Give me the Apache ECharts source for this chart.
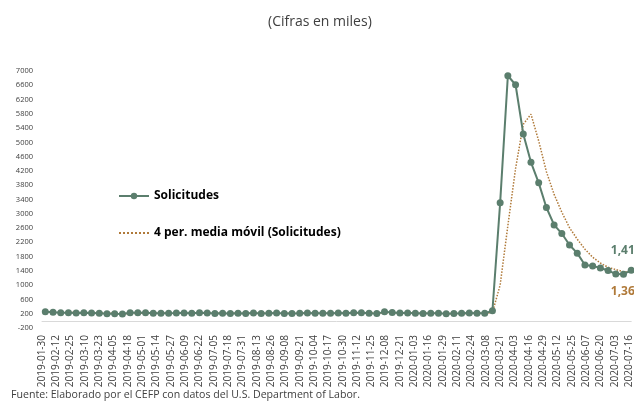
<!DOCTYPE html>
<html>
<head>
<meta charset="utf-8">
<script src="https://cdn.jsdelivr.net/npm/echarts@6/dist/echarts.min.js"></script>
<style>html,body{margin:0;padding:0;background:#fff;}#chart{width:634px;height:404px;}</style>
</head>
<body>
<div id="chart"></div>
<script>
// Week-ending dates (Saturday) of the weekly initial claims
var weekDates = [
'2019-02-02','2019-02-09','2019-02-16','2019-02-23','2019-03-02','2019-03-09','2019-03-16','2019-03-23','2019-03-30','2019-04-06',
'2019-04-13','2019-04-20','2019-04-27','2019-05-04','2019-05-11','2019-05-18','2019-05-25','2019-06-01','2019-06-08','2019-06-15',
'2019-06-22','2019-06-29','2019-07-06','2019-07-13','2019-07-20','2019-07-27','2019-08-03','2019-08-10','2019-08-17','2019-08-24',
'2019-08-31','2019-09-07','2019-09-14','2019-09-21','2019-09-28','2019-10-05','2019-10-12','2019-10-19','2019-10-26','2019-11-02',
'2019-11-09','2019-11-16','2019-11-23','2019-11-30','2019-12-07','2019-12-14','2019-12-21','2019-12-28','2020-01-04','2020-01-11',
'2020-01-18','2020-01-25','2020-02-01','2020-02-08','2020-02-15','2020-02-22','2020-02-29','2020-03-07','2020-03-14','2020-03-21',
'2020-03-28','2020-04-04','2020-04-11','2020-04-18','2020-04-25','2020-05-02','2020-05-09','2020-05-16','2020-05-23','2020-05-30',
'2020-06-06','2020-06-13','2020-06-20','2020-06-27','2020-07-04','2020-07-11','2020-07-18'
];
// Solicitudes (miles)
var solicitudes = [
253,239,229,226,223,229,221,211,202,196,
193,230,230,228,212,211,215,218,222,216,
227,221,209,216,206,215,209,220,209,215,
217,204,208,213,220,210,214,212,218,211,
225,227,213,203,252,234,222,220,214,204,
211,216,201,205,210,219,216,211,282,3307,
6867,6615,5237,4442,3867,3176,2687,2446,2126,1897,
1566,1540,1482,1413,1310,1307,1416
];
// 4 per. media móvil (Solicitudes) — starts at the 4th week
var mediaMovil = [
null,null,null,236.75,229.25,226.75,224.75,221,215.75,207.5,
200.5,205.25,212.25,220.25,225,220.25,216.5,214,216.5,217.75,
220.75,221.5,218.25,218.25,213,211.5,211.5,212.5,213.25,213.25,
215.25,211.25,211,210.5,211.25,212.75,214.25,214,213.5,213.75,
216.5,220.25,219,217,223.75,225.5,227.75,232,222.5,215,
212.25,211.25,208,208.25,208,208.75,212.5,214,232,1004,
2666.75,4267.75,5506.5,5790.25,5040.25,4180.5,3543,3044,2608.75,2289,
2008.75,1782.25,1621.25,1500.25,1436.25,1378,1361.5
];
// X-axis tick labels
var tickLabels = [
'2019-01-30','2019-02-12','2019-02-25','2019-03-10','2019-03-23','2019-04-05','2019-04-18','2019-05-01','2019-05-14','2019-05-27',
'2019-06-09','2019-06-22','2019-07-05','2019-07-18','2019-07-31','2019-08-13','2019-08-26','2019-09-08','2019-09-21','2019-10-04',
'2019-10-17','2019-10-30','2019-11-12','2019-11-25','2019-12-08','2019-12-21','2020-01-03','2020-01-16','2020-01-29','2020-02-11',
'2020-02-24','2020-03-08','2020-03-21','2020-04-03','2020-04-16','2020-04-29','2020-05-12','2020-05-25','2020-06-07','2020-06-20',
'2020-07-03','2020-07-16'
];
var xMin = '2019-01-30', xMax = '2020-07-18';

// day number relative to the axis start (used as the x scale of a value axis)
function dayNum(s){ var p = s.split('-'); var q = xMin.split('-');
  return Math.round((Date.UTC(+p[0], +p[1]-1, +p[2]) - Date.UTC(+q[0], +q[1]-1, +q[2])) / 86400000); }

var tickDays = tickLabels.map(dayNum);
var tickText = {};
tickLabels.forEach(function(s, i){ tickText[tickDays[i]] = s; });

var FONT = 'Open Sans';
var GREEN = '#5b7e6d', BROWN = '#b07a3a';

function lbl(color, pos, off){
  return { show: true, position: pos, offset: off,
    formatter: function(p){ return Math.round(p.value[1]).toLocaleString('en-US'); },
    color: color, fontWeight: 'bold', fontSize: 12, fontFamily: FONT };
}
var solData = weekDates.map(function(d,i){ return [dayNum(d), solicitudes[i]]; });
var maData = weekDates.map(function(d,i){ return [dayNum(d), mediaMovil[i]]; });
var last = solData.length - 1;
solData[last] = { value: solData[last], label: lbl(GREEN, 'top', [-5, -5]) };
maData[last] = { value: maData[last], symbolSize: 1, label: lbl(BROWN, 'bottom', [-5, 8]) };

var chart = echarts.init(document.getElementById('chart'));
chart.setOption({
  animation: false,
  backgroundColor: '#fff',
  textStyle: { fontFamily: FONT },
  title: [
    { text: '(Cifras en miles)', left: 268, top: 15, padding: 0,
      textStyle: { fontSize: 14, fontWeight: 'normal', color: '#404040', fontFamily: FONT } },
    { text: 'Fuente: Elaborado por el CEFP con datos del U.S. Department of Labor.', left: 11, top: 389, padding: 0,
      textStyle: { fontSize: 10.6, fontWeight: 'normal', color: '#404040', fontFamily: FONT } }
  ],
  legend: {
    orient: 'vertical', left: 118, top: 190, padding: 0, itemGap: 25, itemWidth: 30, itemHeight: 8,
    data: ['Solicitudes', { name: '4 per. media móvil (Solicitudes)', itemStyle: { opacity: 0 } }],
    textStyle: { fontSize: 12, fontWeight: 'bold', color: '#000', fontFamily: FONT }
  },
  grid: { left: 42, right: 0, top: 71, bottom: 76, containLabel: false },
  xAxis: {
    type: 'value', min: dayNum(xMin), max: dayNum(xMax),
    axisLine: { onZero: true, lineStyle: { color: '#d9d9d9', width: 1 } },
    axisTick: { show: false },
    splitLine: { show: false },
    axisLabel: { customValues: tickDays, formatter: function(v){ return tickText[v] || ''; },
      rotate: 90, fontSize: 10, color: '#404040', margin: 7, fontFamily: FONT }
  },
  yAxis: {
    type: 'value', min: -200, max: 7000, interval: 400,
    axisLine: { show: false }, axisTick: { show: false }, splitLine: { show: false },
    axisLabel: { fontSize: 7.5, color: '#404040', margin: 9, fontFamily: FONT,
      formatter: function(v){ return String(v); } }
  },
  series: [
    { name: 'Solicitudes', type: 'line', data: solData, symbol: 'circle', symbolSize: 7, showAllSymbol: true,
      itemStyle: { color: GREEN }, lineStyle: { color: GREEN, width: 2 }, clip: false, z: 3 },
    { name: '4 per. media móvil (Solicitudes)', type: 'line', data: maData, symbol: 'circle', symbolSize: 0,
      showSymbol: true, showAllSymbol: true,
      connectNulls: false, itemStyle: { color: BROWN }, lineStyle: { color: BROWN, width: 1.5, type: 'dotted' }, z: 2 }
  ]
});
</script>
</body>
</html>
